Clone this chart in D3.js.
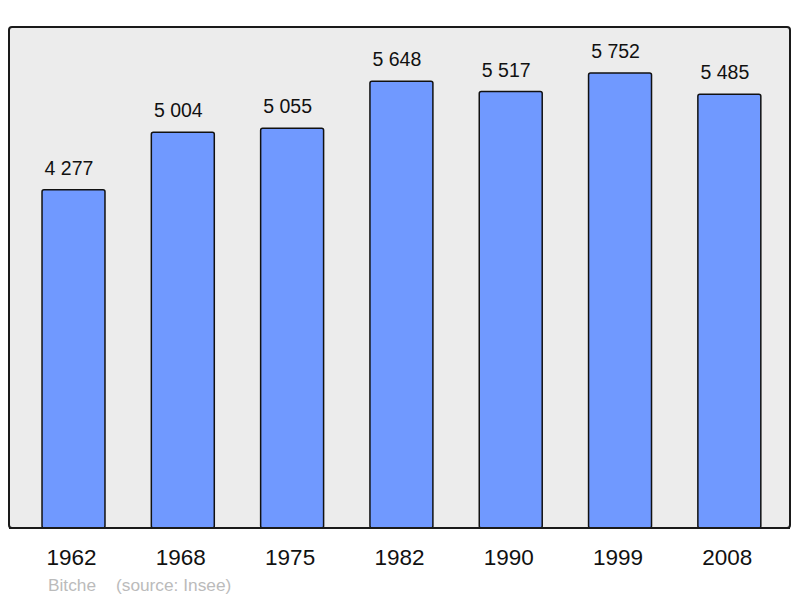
<!DOCTYPE html>
<html><head><meta charset="utf-8">
<script src="https://cdn.jsdelivr.net/npm/d3@7"></script>
<style>body{margin:0;background:#fff}svg{display:block}text{font-family:"Liberation Sans",Arial,sans-serif}</style>
</head><body><svg id="c" width="800" height="598"></svg>
<script>
const years = ["1962","1968","1975","1982","1990","1999","2008"];
const population = [4277,5004,5055,5648,5517,5752,5485];
const townName = "Bitche";
const sourceText = "(source: Insee)";

const svg = d3.select("#c");
const panel = {x0:9, x1:790, y0:27, y1:528};
svg.append("rect").attr("x",panel.x0).attr("y",panel.y0)
  .attr("width",panel.x1-panel.x0).attr("height",panel.y1-panel.y0)
  .attr("rx",3).attr("fill","#ececec").attr("stroke","#1a1a1a").attr("stroke-width",2);

const x = d3.scaleBand().domain(years).range([18.85,784]).paddingInner(0.424).paddingOuter(0.212);
const y = d3.scaleLinear().domain([0,6334]).range([528,27]);
const fmt = v => d3.format(",")(v).replace(/,/g," ");

svg.selectAll("rect.bar").data(years).join("rect").attr("class","bar")
  .attr("x",d=>x(d)).attr("width",x.bandwidth())
  .attr("y",(d,i)=>y(population[i])).attr("height",(d,i)=>y(0)-y(population[i]))
  .attr("rx",2).attr("fill","#7099ff").attr("stroke","#111").attr("stroke-width",1.5);

svg.append("line").attr("x1",panel.x0).attr("x2",panel.x1).attr("y1",panel.y1).attr("y2",panel.y1)
  .attr("stroke","#1a1a1a").attr("stroke-width",2);

svg.selectAll("text.val").data(years).join("text").attr("class","val")
  .attr("x",d=>x(d)+x.bandwidth()/2-4.5).attr("y",(d,i)=>y(population[i])-15)
  .attr("text-anchor","middle").attr("font-size",19.5).attr("fill","#111")
  .text((d,i)=>fmt(population[i]));

const xAxis = d3.axisBottom(x).tickSize(0).tickPadding(0);
const ax = svg.append("g").attr("transform","translate(0,528)").call(xAxis);
ax.select(".domain").remove();
ax.selectAll("text").attr("font-size",22.5).attr("fill","#111").attr("dy",0).attr("y",37).attr("x",-2)
  .style("font-family","'Liberation Sans',Arial,sans-serif");

svg.append("text").attr("x",48).attr("y",591).attr("font-size",17.3).attr("fill","#bbbbbb").text(townName);
svg.append("text").attr("x",116).attr("y",591).attr("font-size",17.3).attr("fill","#bbbbbb").text(sourceText);
</script></body></html>
